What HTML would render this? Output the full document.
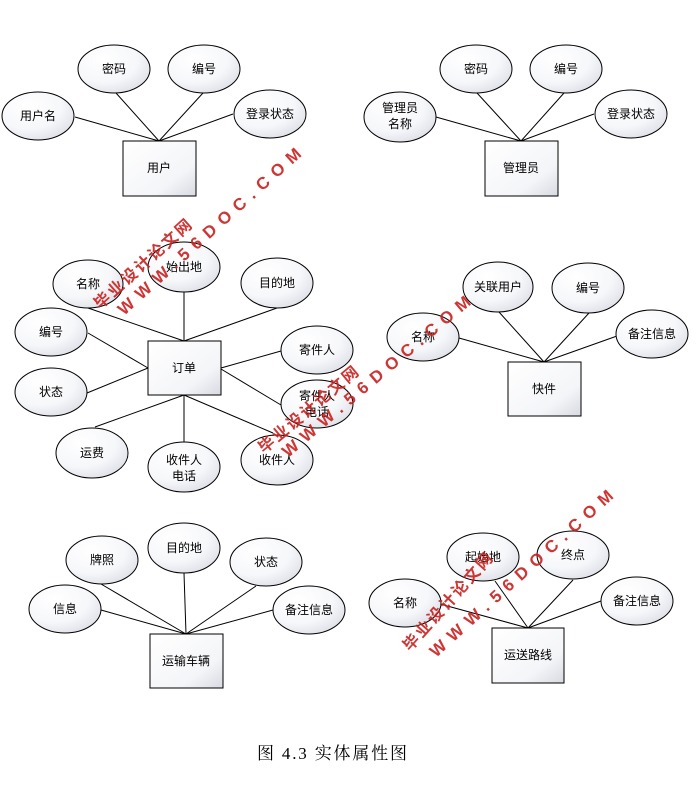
<!DOCTYPE html>
<html><head><meta charset="utf-8"><style>
html,body{margin:0;padding:0;background:#fff;}
svg{display:block;}
text{font-family:"Liberation Sans","Noto Sans CJK SC",sans-serif;}
</style></head><body>
<svg width="699" height="788" viewBox="0 0 699 788" xmlns="http://www.w3.org/2000/svg">
<defs>
<radialGradient id="g" cx="0.35" cy="0.3" r="0.8">
<stop offset="0" stop-color="#ffffff"/><stop offset="0.6" stop-color="#f6f7fa"/><stop offset="1" stop-color="#dcdee6"/>
</radialGradient>
<linearGradient id="b" x1="0" y1="0" x2="1" y2="1">
<stop offset="0" stop-color="#ffffff"/><stop offset="0.7" stop-color="#f4f5f8"/><stop offset="1" stop-color="#d8dae2"/>
</linearGradient>
</defs>
<g stroke="#000" stroke-width="1" fill="none">
<line x1="75" y1="117" x2="159" y2="141"/><line x1="116" y1="93" x2="159" y2="141"/>
<line x1="203" y1="93" x2="159" y2="141"/><line x1="233" y1="114" x2="159" y2="141"/>
<line x1="436" y1="117" x2="521" y2="141"/><line x1="477" y1="93" x2="521" y2="141"/>
<line x1="564" y1="93" x2="521" y2="141"/><line x1="594" y1="114" x2="521" y2="141"/>
<line x1="88" y1="308" x2="184" y2="341"/><line x1="184" y1="292" x2="184" y2="341"/>
<line x1="277" y1="308" x2="184" y2="341"/><line x1="88" y1="333" x2="148" y2="368"/>
<line x1="87" y1="393" x2="148" y2="368"/><line x1="281" y1="351" x2="221" y2="368"/>
<line x1="281" y1="405" x2="221" y2="369"/><line x1="95" y1="427" x2="184" y2="395"/>
<line x1="184" y1="443" x2="184" y2="395"/><line x1="273" y1="433" x2="184" y2="395"/>
<line x1="459" y1="338" x2="544" y2="362"/><line x1="499" y1="312" x2="544" y2="362"/>
<line x1="589" y1="313" x2="544" y2="362"/><line x1="617" y1="336" x2="544" y2="362"/>
<line x1="101" y1="584" x2="186" y2="634"/><line x1="184" y1="573" x2="186" y2="634"/>
<line x1="256" y1="586" x2="186" y2="634"/><line x1="101" y1="610" x2="186" y2="634"/>
<line x1="273" y1="610" x2="186" y2="634"/>
<line x1="440" y1="604" x2="528" y2="628"/><line x1="495" y1="581" x2="528" y2="628"/>
<line x1="573" y1="580" x2="528" y2="628"/><line x1="601" y1="601" x2="528" y2="628"/>
</g>
<g stroke="#000" stroke-width="1" fill="url(#b)">
<rect x="123" y="141" width="73" height="55"/>
<rect x="485" y="141" width="73" height="55"/>
<rect x="148" y="341" width="73" height="54"/>
<rect x="508" y="362" width="73" height="54"/>
<rect x="150" y="634" width="73" height="54"/>
<rect x="492" y="628" width="72" height="55"/>
</g>
<g stroke="#000" stroke-width="1" fill="url(#g)">
<ellipse cx="38" cy="116" rx="36" ry="24"/><ellipse cx="114" cy="69" rx="36" ry="24"/>
<ellipse cx="204" cy="69" rx="36" ry="24"/><ellipse cx="270" cy="114" rx="36" ry="24"/>
<ellipse cx="400" cy="117" rx="36" ry="25"/><ellipse cx="476" cy="69" rx="36" ry="24"/>
<ellipse cx="566" cy="69" rx="36" ry="24"/><ellipse cx="631" cy="114" rx="36" ry="24"/>
<ellipse cx="88" cy="284" rx="35" ry="24"/><ellipse cx="184" cy="267" rx="36" ry="25"/>
<ellipse cx="277" cy="283" rx="36" ry="25"/><ellipse cx="51" cy="332" rx="36" ry="24"/>
<ellipse cx="51" cy="392" rx="36" ry="24"/><ellipse cx="317" cy="350" rx="36" ry="24"/>
<ellipse cx="317" cy="404" rx="36" ry="24"/><ellipse cx="92" cy="453" rx="36" ry="25"/>
<ellipse cx="184" cy="467" rx="36" ry="25"/><ellipse cx="277" cy="460" rx="36" ry="25"/>
<ellipse cx="423" cy="337" rx="36" ry="24"/><ellipse cx="498" cy="287" rx="35" ry="25"/>
<ellipse cx="588" cy="288" rx="36" ry="25"/><ellipse cx="652" cy="334" rx="36" ry="24"/>
<ellipse cx="102" cy="560" rx="36" ry="24"/><ellipse cx="184" cy="548" rx="36" ry="25"/>
<ellipse cx="266" cy="562" rx="36" ry="24"/><ellipse cx="65" cy="609" rx="36" ry="24"/>
<ellipse cx="309" cy="610" rx="36" ry="24"/>
<ellipse cx="483" cy="557" rx="36" ry="24"/><ellipse cx="573" cy="555" rx="36" ry="24"/>
<ellipse cx="405" cy="603" rx="36" ry="24"/><ellipse cx="637" cy="601" rx="36" ry="24"/>
</g>
<g font-size="12" fill="#000" text-anchor="middle">
<text x="38" y="120">用户名</text><text x="114" y="73">密码</text><text x="204" y="73">编号</text><text x="270" y="118">登录状态</text>
<text x="159" y="172">用户</text>
<text x="400" y="112">管理员</text><text x="400" y="128">名称</text><text x="476" y="73">密码</text><text x="566" y="73">编号</text><text x="631" y="118">登录状态</text>
<text x="521" y="172">管理员</text>
<text x="88" y="288">名称</text><text x="184" y="271">始出地</text><text x="277" y="287">目的地</text>
<text x="51" y="336">编号</text><text x="51" y="396">状态</text><text x="317" y="354">寄件人</text>
<text x="317" y="400">寄件人</text><text x="317" y="416">电话</text><text x="92" y="457">运费</text>
<text x="184" y="464">收件人</text><text x="184" y="480">电话</text><text x="277" y="464">收件人</text>
<text x="184" y="372">订单</text>
<text x="423" y="341">名称</text><text x="498" y="291">关联用户</text><text x="588" y="292">编号</text><text x="652" y="338">备注信息</text>
<text x="544" y="393">快件</text>
<text x="102" y="564">牌照</text><text x="184" y="552">目的地</text><text x="266" y="566">状态</text><text x="65" y="613">信息</text><text x="309" y="614">备注信息</text>
<text x="186" y="665">运输车辆</text>
<text x="483" y="561">起始地</text><text x="573" y="559">终点</text><text x="405" y="607">名称</text><text x="637" y="605">备注信息</text>
<text x="528" y="659">运送路线</text>
</g>
<text x="257" y="759" font-size="17" style="font-family:'Liberation Serif','Noto Serif CJK SC',serif" textLength="150">图 4.3  实体属性图</text>
<g fill="#c8201e" font-weight="bold" opacity="0.9">
<text transform="translate(100,310) rotate(-42)" font-size="16" textLength="125">毕业设计论文网</text>
<text transform="translate(124,316) rotate(-42)" font-size="17" textLength="240">WWW.56DOC.COM</text>
<text transform="translate(264,454) rotate(-40)" font-size="16" textLength="125">毕业设计论文网</text>
<text transform="translate(288,458) rotate(-40)" font-size="17" textLength="240">WWW.56DOC.COM</text>
<text transform="translate(410,652) rotate(-48)" font-size="16" textLength="125">毕业设计论文网</text>
<text transform="translate(436,658) rotate(-42)" font-size="17" textLength="240">WWW.56DOC.COM</text>
</g>
</svg>
</body></html>
